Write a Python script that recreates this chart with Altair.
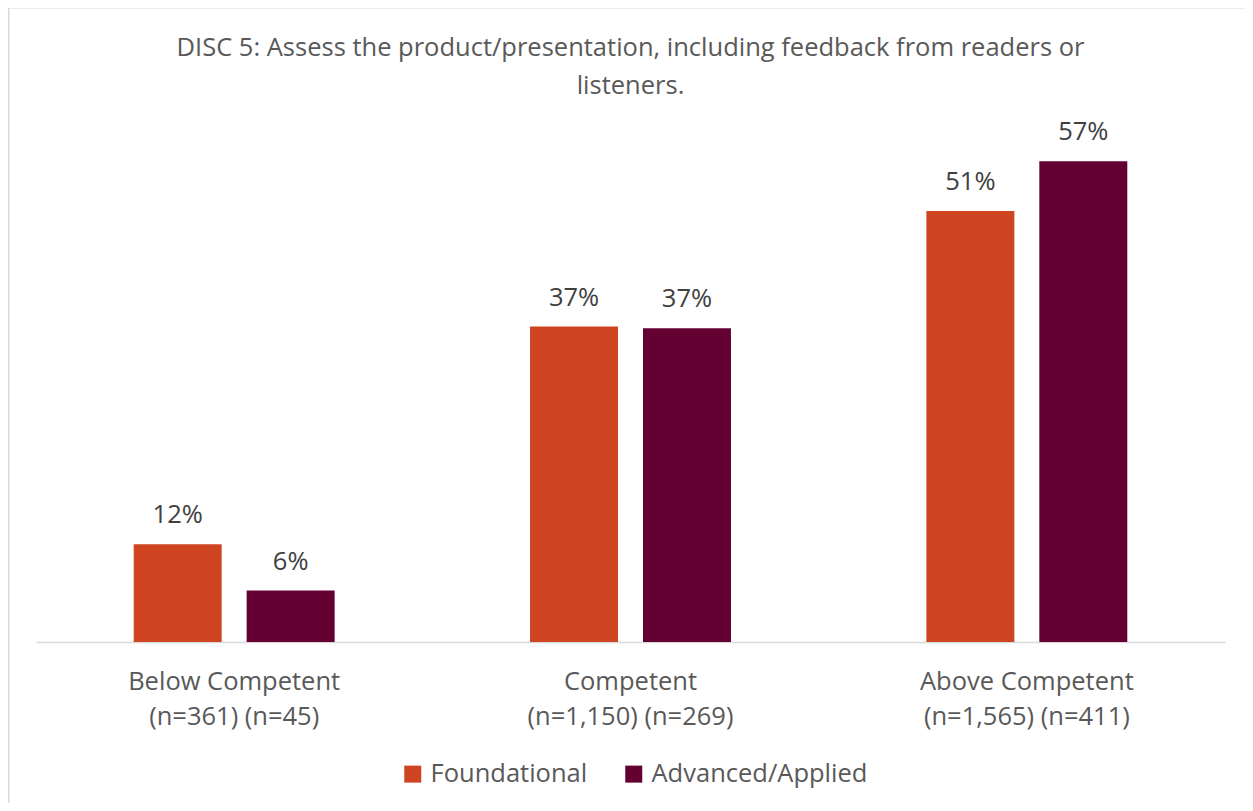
import altair as alt
import pandas as pd

title_lines = ["DISC 5: Assess the product/presentation, including feedback from readers or",
               "listeners."]
categories = ["Below Competent", "Competent", "Above Competent"]
n_labels = ["(n=361) (n=45)", "(n=1,150) (n=269)", "(n=1,565) (n=411)"]
series = ["Foundational", "Advanced/Applied"]
foundational = [11.6, 37.4, 51.1]
advanced = [6.1, 37.2, 57.0]
colors = ["#D04521", "#640032"]

rows = []
for c, n, f, a in zip(categories, n_labels, foundational, advanced):
    lab = c + "|" + n
    rows.append({"cat": lab, "series": series[0], "value": f})
    rows.append({"cat": lab, "series": series[1], "value": a})
df = pd.DataFrame(rows)
cat_order = [c + "|" + n for c, n in zip(categories, n_labels)]

PW, PH = 1189, 506
font = "Open Sans"
FS = 25.5

x = alt.X("cat:N", sort=cat_order, title=None,
          scale=alt.Scale(paddingInner=0.493, paddingOuter=0.2465),
          axis=alt.Axis(labelExpr="split(datum.label, '|')", labelAngle=0,
                        labelFontSize=FS, labelFont=font, labelColor="#595959",
                        labelLineHeight=35, labelPadding=27, ticks=False,
                        labelLimit=0,
                        domainColor="#D9D9D9", domainWidth=1.5, grid=False))
xo = alt.XOffset("series:N", sort=series,
                 scale=alt.Scale(paddingInner=0.221, paddingOuter=0))
y = alt.Y("value:Q", scale=alt.Scale(domain=[0, 60]), axis=None)

base = alt.Chart(df)

bars = base.mark_bar().encode(
    x=x, xOffset=xo, y=y,
    color=alt.Color("series:N", sort=series,
                    scale=alt.Scale(domain=series, range=colors),
                    legend=alt.Legend(title=None, orient="none", direction="horizontal",
                                      legendX=364, legendY=625,
                                      symbolType="square", symbolSize=289,
                                      symbolStrokeWidth=0, labelLimit=0,
                                      labelFont=font, labelFontSize=FS,
                                      labelColor="#595959", labelOffset=5,
                                      columnPadding=33)),
)

labels = base.transform_calculate(
    pct="format(datum.value, '.0f') + '%'"
).mark_text(baseline="bottom", dy=-16, font=font, fontSize=FS,
            color="#404040").encode(
    x=x, xOffset=xo, y=y, text="pct:N")

title = alt.Chart(alt.Data(values=[{}])).mark_text(
    text=title_lines, font=font, fontSize=25.5, color="#595959",
    lineHeight=38, align="center", baseline="alphabetic").encode(
    x=alt.value(PW / 2), y=alt.value(-80))

frame = alt.Chart(alt.Data(values=[{}]))
top_line = frame.mark_rule(color="#D9D9D9", strokeWidth=1.5).encode(
    x=alt.value(-27.25), x2=alt.value(1300), y=alt.value(-128.25))
left_line = frame.mark_rule(color="#D9D9D9", strokeWidth=1.5).encode(
    x=alt.value(-27.25), y=alt.value(-128.25), y2=alt.value(800))

chart = alt.layer(top_line, left_line, bars, labels, title).properties(
    width=PW, height=PH,
    autosize=alt.AutoSizeParams(type="none"),
    padding={"left": 28, "top": 128, "right": 20, "bottom": 161},
).configure_view(stroke=None)

chart.save("out.html", embed_options={"renderer": "svg", "actions": False})
